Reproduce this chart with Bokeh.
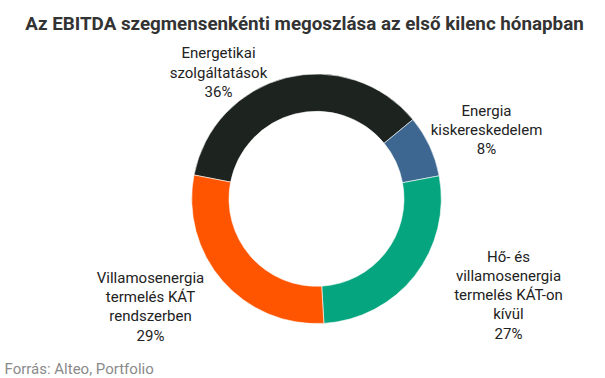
import numpy as np
from bokeh.plotting import figure
from bokeh.models import Range1d, ColumnDataSource
from bokeh.core.properties import value
from bokeh.embed import file_html
from bokeh.resources import INLINE

# ---- data ----
title_text = "Az EBITDA szegmensenkénti megoszlása az első kilenc hónapban"
source_note = "Forrás: Alteo, Portfolio"
segments = [
    "Energetikai\nszolgáltatások",
    "Energia\nkiskereskedelem",
    "Hő- és\nvillamosenergia\ntermelés KÁT-on\nkívül",
    "Villamosenergia\ntermelés KÁT\nrendszerben",
]
shares = [36, 8, 27, 29]
colors = ["#1d2420", "#3d6791", "#05a57f", "#ff5500"]

# ---- layout (page pixel coordinates of the reference) ----
W, H = 605, 378
OFF = 0
cx_img, cy_img = 316, 198.3
R_out, R_in = 124.8, 87.5
start_cw = 281.0  # degrees clockwise from 12 o'clock
label_x_img = [218, 486, 508, 150]
label_y_img = [52.7, 110, 256, 277.3]  # baseline of first line
line_gap = 19.3


def fx(x):
    return x - OFF


def fy(y):
    return H - (y - OFF)


p = figure(width=W, height=H, x_range=Range1d(0, W), y_range=Range1d(0, H),
           output_backend="svg", toolbar_location=None, min_border=0,
           x_axis_type=None, y_axis_type=None)
p.grid.visible = False
p.outline_line_color = None
p.background_fill_color = "white"
p.border_fill_color = "white"

vals = np.array(shares, dtype=float)
fr = vals / vals.sum()
cum = np.concatenate([[0], np.cumsum(fr)])
start_ang = np.deg2rad(90 - (start_cw + 360 * cum[:-1]))
end_ang = np.deg2rad(90 - (start_cw + 360 * cum[1:]))

src = ColumnDataSource(dict(x=[fx(cx_img)] * len(vals), y=[fy(cy_img)] * len(vals),
                            s=start_ang, e=end_ang, c=colors))
p.annular_wedge(x="x", y="y", inner_radius=R_in, outer_radius=R_out,
                start_angle="s", end_angle="e", direction="clock",
                fill_color="c", line_color="white", line_width=0.6, source=src)

# slice labels
lx, ly, lt = [], [], []
for i, seg in enumerate(segments):
    lines = seg.split("\n") + [f"{shares[i]}%"]
    for j, ln in enumerate(lines):
        lx.append(fx(label_x_img[i]))
        ly.append(fy(label_y_img[i] + j * line_gap))
        lt.append(ln)
p.text(x=lx, y=ly, text=lt, text_font=value("Roboto"), text_font_size="15px",
       text_color="#222222", text_align="center", text_baseline="alphabetic")

# title
p.text(x=[fx(304)], y=[fy(23.3)], text=[title_text], text_font=value("Roboto"),
       text_font_size="18.8px", text_font_style="bold", text_color="#333333",
       text_align="center", text_baseline="alphabetic")

# source
p.text(x=[fx(4)], y=[fy(368.5)], text=[source_note], text_font=value("Roboto"),
       text_font_size="15px", text_color="#8a8a8a", text_align="left",
       text_baseline="alphabetic")

open("out.html", "w").write(file_html(p, INLINE))
